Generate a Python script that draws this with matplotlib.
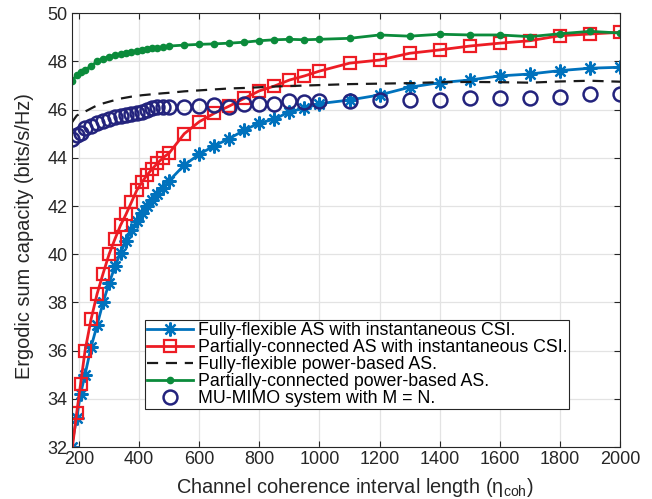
import matplotlib
matplotlib.use("Agg")
import matplotlib.pyplot as plt

plt.rcParams['font.family'] = ['Liberation Sans', 'DejaVu Sans']
plt.rcParams['mathtext.fontset'] = 'custom'
plt.rcParams['mathtext.rm'] = 'Liberation Sans'
plt.rcParams['mathtext.it'] = 'Liberation Sans:italic'

# ---- data ----
eta = [175, 192, 205, 220, 240, 260, 280, 300, 320, 338, 356, 374, 392, 410, 427, 444, 461, 479, 500,
       550, 600, 650, 700, 750, 800, 850, 900, 950, 1000,
       1100, 1200, 1300, 1400, 1500, 1600, 1700, 1800, 1900, 2000]

full_flex_csi = [32.02, 33.2, 34.2, 35.0, 36.15, 37.05, 38.0, 38.8, 39.5, 40.05, 40.55, 41.0, 41.38, 41.72,
                 42.0, 42.27, 42.5, 42.75, 43.05,
                 43.7, 44.15, 44.5, 44.8, 45.15, 45.45, 45.6, 45.92, 46.05, 46.25,
                 46.4, 46.61, 46.93, 47.12, 47.23, 47.4, 47.48, 47.62, 47.72, 47.76]

part_conn_csi = [31.7, 33.4, 34.6, 36.0, 37.3, 38.35, 39.2, 40.0, 40.65, 41.2, 41.65, 42.15, 42.65, 43.0,
                 43.3, 43.55, 43.78, 44.0, 44.2,
                 45.0, 45.5, 45.85, 46.15, 46.47, 46.78, 46.98, 47.23, 47.4, 47.6,
                 47.93, 48.06, 48.34, 48.48, 48.64, 48.76, 48.86, 49.07, 49.14, 49.21]

full_flex_power = [45.45, 45.75, 45.85, 45.92, 46.05, 46.18, 46.26, 46.33, 46.4, 46.46, 46.5, 46.54, 46.57,
                   46.6, 46.62, 46.64, 46.66, 46.68, 46.7,
                   46.76, 46.8, 46.84, 46.88, 46.9, 46.93, 46.96, 46.98, 47.0, 47.02,
                   47.06, 47.08, 47.1, 47.14, 47.15, 47.14, 47.12, 47.17, 47.2, 47.16]

part_conn_power = [47.2, 47.42, 47.55, 47.65, 47.81, 48.0, 48.12, 48.2, 48.27, 48.31, 48.36, 48.41, 48.45,
                   48.48, 48.52, 48.55, 48.57, 48.6, 48.64,
                   48.68, 48.71, 48.73, 48.76, 48.8, 48.86, 48.9, 48.92, 48.9, 48.92,
                   48.96, 49.1, 49.05, 49.13, 49.1, 49.1, 49.03, 49.15, 49.25, 49.18]

mu_mimo = [44.8, 44.95, 45.05, 45.22, 45.32, 45.44, 45.55, 45.63, 45.7, 45.74, 45.78, 45.82, 45.85,
           45.92, 46.0, 46.05, 46.1, 46.1, 46.13,
           46.13, 46.15, 46.2, 46.13, 46.25, 46.22, 46.23, 46.35, 46.33, 46.36,
           46.37, 46.42, 46.42, 46.42, 46.5, 46.5, 46.5, 46.54, 46.64, 46.64]

labels = ["Fully-flexible AS with instantaneous CSI.",
          "Partially-connected AS with instantaneous CSI.",
          "Fully-flexible power-based AS.",
          "Partially-connected power-based AS.",
          "MU-MIMO system with M = N."]

xticks = list(range(200, 2001, 200))
yticks = list(range(32, 51, 2))

# ---- figure ----
fig = plt.figure(figsize=(6.52, 4.99), dpi=100)
ax = fig.add_axes([0.1097, 0.1042, 0.8413, 0.8692])

blue = '#0072BD'
red = '#ED1C24'
green = '#0B8B3B'
navy = '#23237D'

ax.plot(eta, full_flex_csi, color=blue, lw=2, marker=(8, 2, 0), ms=10, mew=1.6, label=labels[0])
ax.plot(eta, part_conn_csi, color=red, lw=2, marker='s', ms=9, mfc='none', mew=1.6, label=labels[1])
ax.plot(eta, full_flex_power, color='#1a1a1a', lw=1.6, ls=(0, (5, 3.5)), label=labels[2])
ax.plot(eta, part_conn_power, color=green, lw=2, marker='o', ms=4.5, mfc=green, mec=green, label=labels[3])
ax.plot(eta, mu_mimo, ls='none', marker='o', ms=10, mfc='none', mec=navy, mew=1.8, label=labels[4])

ax.set_xlim(175, 2000)
ax.set_ylim(32, 50)
ax.set_xticks(xticks)
ax.set_yticks(yticks)
ax.grid(True, color='#e3e3e3', lw=0.9)
ax.set_axisbelow(True)
ax.tick_params(direction='in', top=True, right=True, length=4, width=0.8,
               labelsize=13, colors='#262626', pad=3)
for s in ax.spines.values():
    s.set_color('#262626')
    s.set_linewidth(0.8)

ax.set_xlabel("Channel coherence interval length (η$_{\\mathrm{coh}}$)", fontsize=14.4, color='#262626')
ax.set_ylabel("Ergodic sum capacity (bits/s/Hz)", fontsize=14.4, color='#262626')
ax.xaxis.set_label_coords(0.517, -0.068)
ax.yaxis.set_label_coords(-0.068, 0.487)

leg = ax.legend(loc='lower left', bbox_to_anchor=(0.134, 0.087), fontsize=12.8,
                labelspacing=0.0, handlelength=2.6, handletextpad=0.25, borderpad=0.12,
                borderaxespad=0, fancybox=False, framealpha=1, edgecolor='#262626')
leg.get_frame().set_linewidth(0.8)

fig.savefig('out.png', dpi=100)
